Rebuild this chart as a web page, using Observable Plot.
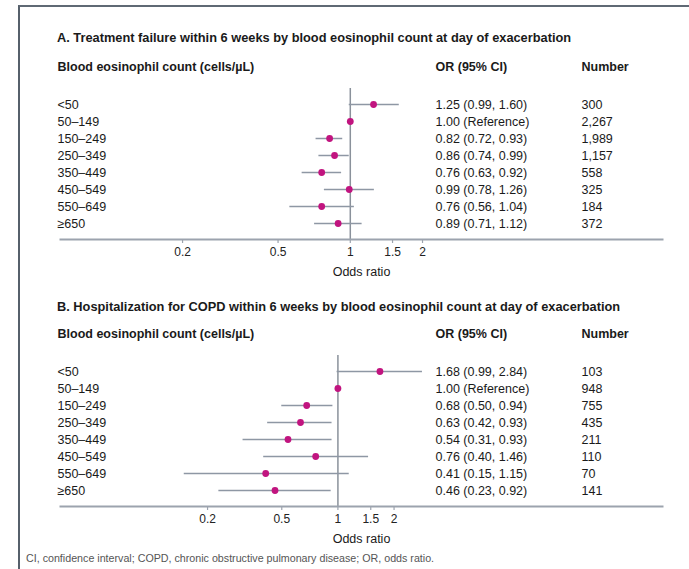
<!DOCTYPE html>
<html>
<head>
<meta charset="utf-8">
<script src="https://cdn.jsdelivr.net/npm/d3@7"></script>
<script src="https://cdn.jsdelivr.net/npm/@observablehq/plot@0.6"></script>
<style>
  html, body { margin: 0; padding: 0; background: #fff; }
  #page { position: relative; width: 689px; height: 569px; overflow: hidden; background: #fff;
          font-family: "Liberation Sans", Arial, Helvetica, sans-serif; color: #1a1a1a; }
  #box { position: absolute; left: 18px; top: 5px; width: 700px; height: 600px;
         border-left: 2px solid #56606b; border-top: 2px solid #5f6974; box-sizing: border-box; }
  .title { position: absolute; left: 57px; font-weight: bold; font-size: 12.8px; line-height: 15px; white-space: nowrap; }
  .panel { position: absolute; left: 0; }
  #foot { position: absolute; left: 26px; top: 552px; font-size: 10.7px; line-height: 13px; color: #555; white-space: nowrap; }
</style>
</head>
<body>
<div id="page">
  <div id="box"></div>
  <div class="title" id="titleA" style="top:30px"></div>
  <div class="panel" id="panelA" style="top:50px"></div>
  <div class="title" id="titleB" style="top:299px"></div>
  <div class="panel" id="panelB" style="top:317px"></div>
  <div id="foot"></div>
</div>
<script>
// ---- data ----
const categories = ["<50", "50–149", "150–249", "250–349", "350–449", "450–549", "550–649", "≥650"];

const orA = [1.25, 1.00, 0.82, 0.86, 0.76, 0.99, 0.76, 0.89];
const loA = [0.99, null, 0.72, 0.74, 0.63, 0.78, 0.56, 0.71];
const hiA = [1.60, null, 0.93, 0.99, 0.92, 1.26, 1.04, 1.12];
const nA  = [300, 2267, 1989, 1157, 558, 325, 184, 372];

const orB = [1.68, 1.00, 0.68, 0.63, 0.54, 0.76, 0.41, 0.46];
const loB = [0.99, null, 0.50, 0.42, 0.31, 0.40, 0.15, 0.23];
const hiB = [2.84, null, 0.94, 0.93, 0.93, 1.46, 1.15, 0.92];
const nB  = [103, 948, 755, 435, 211, 110, 70, 141];

const tickValues = [0.2, 0.5, 1, 1.5, 2];
const tickLabels = ["0.2", "0.5", "1", "1.5", "2"];

const xDomainA = [0.062, 20];
const xDomainB = [0.03255, 55.0];

const titleA = "A. Treatment failure within 6 weeks by blood eosinophil count at day of exacerbation";
const titleB = "B. Hospitalization for COPD within 6 weeks by blood eosinophil count at day of exacerbation";
const headers = ["Blood eosinophil count (cells/µL)", "OR (95% CI)", "Number"];
const axisLabel = "Odds ratio";
const footnote = "CI, confidence interval; COPD, chronic obstructive pulmonary disease; OR, odds ratio.";

// ---- build ----
const fmt2 = d3.format(".2f");
const fmtN = d3.format(",");

function rows(or, lo, hi, n) {
  return categories.map((c, i) => ({
    cat: c, or: or[i], lo: lo[i], hi: hi[i], n: n[i],
    orText: lo[i] == null ? `${fmt2(or[i])} (Reference)` : `${fmt2(or[i])} (${fmt2(lo[i])}, ${fmt2(hi[i])})`,
    nText: fmtN(n[i])
  }));
}

const ticks = tickValues.map((v, i) => ({ v, label: tickLabels[i] }));

const GRAY = "#8e97a4";
const AXIS = "#9ca3ae";
const DOT = "#c1147f";
const H = 234, MT = 38, MB = 45;
const FRAME_H = H - MT - MB;

function panel(data, domain) {
  return Plot.plot({
    width: 689,
    height: H,
    marginLeft: 60,
    marginRight: 27,
    marginTop: MT,
    marginBottom: MB,
    style: { fontFamily: "Liberation Sans, Arial, Helvetica, sans-serif", fontSize: "12.5px", color: "#1a1a1a", background: "transparent" },
    x: { type: "log", domain, axis: null },
    y: { type: "point", domain: categories, padding: 0, insetTop: 13, insetBottom: 14, axis: null },
    marks: [
      Plot.ruleX([1], { stroke: "#8a919b", strokeWidth: 1.5 }),
      Plot.ruleY(data.filter(d => d.lo != null), { y: "cat", x1: "lo", x2: "hi", stroke: GRAY, strokeWidth: 1.5 }),
      Plot.dot(data, { x: "or", y: "cat", r: 3.4, fill: DOT, stroke: null }),
      // x axis: tick marks below the frame, labels, axis line
      Plot.ruleX(ticks, { x: "v", insetTop: FRAME_H, insetBottom: -4, stroke: AXIS, strokeWidth: 1.2 }),
      Plot.text(ticks, { x: "v", text: "label", frameAnchor: "bottom", lineAnchor: "middle", dy: 13, fontSize: 12, fill: "#222" }),
      Plot.frame({ anchor: "bottom", stroke: AXIS, strokeWidth: 2 }),
      Plot.text([axisLabel], { frameAnchor: "bottom", lineAnchor: "middle", dy: 32, fontSize: 12.5, fill: "#1a1a1a" }),
      // table columns
      Plot.text(data, { y: "cat", text: "cat", frameAnchor: "left", dx: -3, textAnchor: "start", fill: "#1a1a1a" }),
      Plot.text(data, { y: "cat", text: "orText", frameAnchor: "left", dx: 375, textAnchor: "start", fill: "#1a1a1a" }),
      Plot.text(data, { y: "cat", text: "nText", frameAnchor: "left", dx: 521, textAnchor: "start", fill: "#1a1a1a" }),
      // headers
      Plot.text([headers[0]], { frameAnchor: "top-left", lineAnchor: "middle", dx: -3, dy: -22, textAnchor: "start", fontWeight: "bold", fill: "#1a1a1a" }),
      Plot.text([headers[1]], { frameAnchor: "top-left", lineAnchor: "middle", dx: 375, dy: -22, textAnchor: "start", fontWeight: "bold", fill: "#1a1a1a" }),
      Plot.text([headers[2]], { frameAnchor: "top-left", lineAnchor: "middle", dx: 521, dy: -22, textAnchor: "start", fontWeight: "bold", fill: "#1a1a1a" })
    ]
  });
}

document.getElementById("titleA").textContent = titleA;
document.getElementById("titleB").textContent = titleB;
document.getElementById("foot").textContent = footnote;
document.getElementById("panelA").appendChild(panel(rows(orA, loA, hiA, nA), xDomainA));
document.getElementById("panelB").appendChild(panel(rows(orB, loB, hiB, nB), xDomainB));
</script>
</body>
</html>
